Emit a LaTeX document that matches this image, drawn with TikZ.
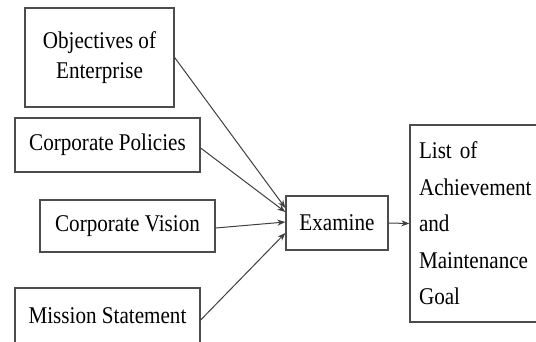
\documentclass[tikz,border=0pt]{standalone}
\usepackage{fontspec}
\setmainfont{Liberation Serif}[FakeStretch=0.88]
\usetikzlibrary{arrows.meta}
\definecolor{boxgray}{gray}{0.3}
\definecolor{linegray}{gray}{0.25}
\begin{document}
\begin{tikzpicture}[x=1pt,y=-1pt,
  box/.style={draw=boxgray, line width=1.3pt, inner sep=0pt, align=center,
    font=\fontsize{24}{30}\selectfont},
  conn/.style={draw=linegray, line width=1pt, -{Stealth[length=8pt,width=6pt]}}]
\clip (0,0) rectangle (536,341);
\fill[white] (0,0) rectangle (536,341);
\node[box, minimum width=149pt, minimum height=99pt] (obj) at (99.5,57.5) {Objectives of\\Enterprise};
\node[box, minimum width=185pt, minimum height=54pt] (pol) at (107.5,145) {Corporate Policies};
\node[box, minimum width=175pt, minimum height=52pt] (vis) at (127.5,226) {Corporate Vision};
\node[box, minimum width=185pt, minimum height=56pt] (mis) at (107.5,316) {Mission Statement};
\node[box, minimum width=102pt, minimum height=54pt] (ex) at (337,223) {Examine};
\node[box, minimum width=135pt, minimum height=197pt, text width=117pt, align=left,
  font=\fontsize{24}{36.5}\selectfont] (lst) at (477.5,223.5)
  {List of\\Achievement\\and\\Maintenance\\Goal};
\draw[conn] (obj.east) -- ([yshift=15pt]ex.west);
\draw[conn] ([yshift=-3pt]pol.east) -- ([yshift=11pt]ex.west);
\draw[conn] ([yshift=-2pt]vis.east) -- ([yshift=1pt]ex.west);
\draw[conn] ([yshift=-4pt]mis.east) -- ([yshift=-10pt]ex.west);
\draw[conn] (ex.east) -- (lst.west);
\end{tikzpicture}
\end{document}
